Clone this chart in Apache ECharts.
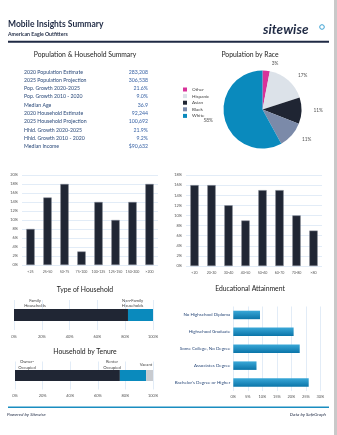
<!DOCTYPE html>
<html><head><meta charset="utf-8">
<script src="https://cdn.jsdelivr.net/npm/echarts@6/dist/echarts.min.js"></script>
<style>html,body{margin:0;padding:0;background:#fff}#c{width:337px;height:435px}</style>
</head><body><div id="c"></div>
<script>
const summaryLabels = ['2020 Population Estimate','2025 Population Projection','Pop. Growth 2020-2025','Pop. Growth 2010 - 2020','Median Age','2020 Household Estimate','2025 Household Projection','Hhld. Growth 2020-2025','Hhld. Growth 2010 - 2020','Median Income'];
const summaryValues = ['283,208','306,538','21.6%','9.0%','36.9','92,244','100,692','21.9%','9.2%','$90,632'];
const raceNames = ['Other','Hispanic','Asian','Black','White'];
const raceValues = [3,17,11,11,58];
const raceColors = ['#d8339a','#dce2e9','#1f2533','#7b8aa9','#0a8abd'];
const incomeCats = ['<25','25-50','50-75','75-100','100-125','125-150','150-200','>200'];
const incomeValues = [8,15,18,3,14,10,14,18];
const ageCats = ['<20','20-30','30-40','40-50','50-60','60-70','70-80','>80'];
const ageValues = [16,16,12,9,15,15,10,7];
const householdNames = ['Family Households','Non-Family Households'];
const householdValues = [82,18];
const tenureNames = ['Owner-Occupied','Renter Occupied','Vacant'];
const tenureValues = [76,19,5];
const eduCats = ['No Highschool Diploma','Highschool Graduate','Some College, No Degree','Associates Degree',"Bachelor's Degree or Higher"];
const eduValues = [9.2,20.8,22.9,8,26];

const F = 'Lato, "Open Sans", sans-serif';
const navy = '#1f2a44';
const dark = '#202634';
const blue = '#0a8abd';
const grid = '#dbe7f5';
const lab = '#2b4a7a';

const chart = echarts.init(document.getElementById('c'), null, {renderer:'canvas'});

const g = [];
g.push({type:'text', left:8, top:20, style:{text:'Mobile Insights Summary', font:'bold 8.5px '+F, fill:navy}});
g.push({type:'text', left:8, top:31.5, style:{text:'American Eagle Outfitters', font:'bold 5.2px '+F, fill:navy}});
g.push({type:'text', left:263, top:23, style:{text:'sitewise', font:'italic bold 13.5px '+F, fill:navy}});
g.push({type:'circle', shape:{cx:322, cy:27, r:2.3}, style:{fill:'none', stroke:'#3aa0d2', lineWidth:1}});
g.push({type:'rect', shape:{x:8, y:40.8, width:321, height:2}, style:{fill:navy}});
g.push({type:'rect', shape:{x:334, y:0, width:3, height:435}, style:{fill:'#c9c9c9'}});
g.push({type:'rect', shape:{x:8, y:406.5, width:321, height:1.6}, style:{fill:'#1a8dc0'}});
g.push({type:'text', left:7, top:412.5, style:{text:'Powered by Sitewise', font:'italic 4.6px '+F, fill:navy}});
g.push({type:'text', right:11, top:412.5, style:{text:'Data by SafeGraph', font:'italic 4.6px '+F, fill:navy, align:'right'}});
const titles = [['Population & Household Summary',85,55],['Population by Race',250,55],['Type of Household',85,290],['Household by Tenure',85,352],['Educational Attainment',250,289]];
titles.forEach(t=>g.push({type:'text', x:t[1], y:t[2], style:{text:t[0], font:'6.8px '+F, fill:'#222', align:'center', verticalAlign:'middle'}}));
const rowY = [72,80,88,96.5,105,113,121.5,130,138,146];
summaryLabels.forEach((l,i)=>{
  g.push({type:'text', x:24, y:rowY[i], style:{text:l, font:'5.2px '+F, fill:lab, verticalAlign:'middle'}});
  g.push({type:'text', x:148, y:rowY[i], style:{text:summaryValues[i], font:'5.2px '+F, fill:'#3a64a6', align:'right', verticalAlign:'middle'}});
});
const small = '4.2px '+F;
g.push({type:'text', x:35, y:303, style:{text:'Family\nHouseholds', font:small, fill:'#444', align:'center', verticalAlign:'middle', lineHeight:4.6}});
g.push({type:'text', x:132.5, y:303, style:{text:'Non-Family\nHouseholds', font:small, fill:'#444', align:'center', verticalAlign:'middle', lineHeight:4.6}});
g.push({type:'text', x:27, y:364.5, style:{text:'Owner-\nOccupied', font:small, fill:'#444', align:'center', verticalAlign:'middle', lineHeight:6}});
g.push({type:'text', x:112, y:364.5, style:{text:'Renter\nOccupied', font:small, fill:'#444', align:'center', verticalAlign:'middle', lineHeight:6}});
g.push({type:'text', x:146, y:365, style:{text:'Vacant', font:small, fill:'#444', align:'center', verticalAlign:'middle'}});

const axLab = {fontSize:4, color:'#555', fontFamily:F};
function catX(gi, cats){
  return {type:'category', gridIndex:gi, data:cats, axisLine:{show:false}, axisTick:{show:false}, axisLabel:Object.assign({margin:5, interval:0}, axLab, {fontSize:3.6})};
}
function valAxis(gi, max, interval, margin){
  return {type:'value', gridIndex:gi, min:0, max:max, interval:interval, axisLabel:Object.assign({formatter:'{value}%', margin:margin}, axLab), splitLine:{lineStyle:{color:grid, width:0.8}}, axisLine:{show:false}, axisTick:{show:false}};
}
const option = {
  animation:false,
  graphic:g,
  legend:{orient:'vertical', left:183, top:87, padding:0, itemWidth:4, itemHeight:4, itemGap:1.6, icon:'rect', data:raceNames, textStyle:{fontSize:4.6, color:'#444', fontFamily:F}},
  grid:[
    {left:22, right:179, top:175, bottom:170},
    {left:186, right:15, top:175, bottom:169},
    {left:14, right:184, top:300, height:30},
    {left:15, right:184, top:361.5, height:28},
    {left:233.3, right:16.7, top:306.5, height:84.5}
  ],
  xAxis:[
    catX(0,incomeCats),
    catX(1,ageCats),
    valAxis(2,100,20,5),
    valAxis(3,100,20,4.5),
    valAxis(4,30,5,3.5)
  ],
  yAxis:[
    valAxis(0,20,2,4),
    valAxis(1,18,2,4),
    {type:'category', gridIndex:2, data:['Household'], show:false},
    {type:'category', gridIndex:3, data:['Tenure'], show:false},
    {type:'category', gridIndex:4, data:eduCats, inverse:true, axisLine:{show:false}, axisTick:{show:false}, axisLabel:{fontSize:4.5, color:lab, fontFamily:F, margin:3}}
  ],
  series:[
    {type:'pie', center:[262.5,109.5], radius:39, startAngle:90, clockwise:true,
      data:raceNames.map((n,i)=>({name:n, value:raceValues[i], itemStyle:{color:raceColors[i]}})),
      label:{show:true, position:'outside', formatter:'{c}%', fontSize:4.8, color:'#555', fontFamily:F},
      labelLine:{show:false, length:7, length2:0}, emphasis:{disabled:true}},
    {type:'bar', xAxisIndex:0, yAxisIndex:0, data:incomeValues, barWidth:'49%', itemStyle:{color:dark, borderColor:'#7e8590', borderWidth:0.5}},
    {type:'bar', xAxisIndex:1, yAxisIndex:1, data:ageValues, barWidth:'49%', itemStyle:{color:dark, borderColor:'#7e8590', borderWidth:0.5}},
    {type:'bar', name:householdNames[0], xAxisIndex:2, yAxisIndex:2, stack:'h', data:[householdValues[0]], barWidth:12, itemStyle:{color:dark}},
    {type:'bar', name:householdNames[1], xAxisIndex:2, yAxisIndex:2, stack:'h', data:[householdValues[1]], barWidth:12, itemStyle:{color:blue}},
    {type:'bar', name:tenureNames[0], xAxisIndex:3, yAxisIndex:3, stack:'t', data:[tenureValues[0]], barWidth:11, itemStyle:{color:dark}},
    {type:'bar', name:tenureNames[1], xAxisIndex:3, yAxisIndex:3, stack:'t', data:[tenureValues[1]], barWidth:11, itemStyle:{color:blue}},
    {type:'bar', name:tenureNames[2], xAxisIndex:3, yAxisIndex:3, stack:'t', data:[tenureValues[2]], barWidth:11, itemStyle:{color:'#c8cbd0'}},
    {type:'bar', xAxisIndex:4, yAxisIndex:4, data:eduValues, barWidth:8.5,
      itemStyle:{color:new echarts.graphic.LinearGradient(0,0,0,1,[{offset:0,color:'#3aa8d8'},{offset:1,color:'#0a74a8'}])}}
  ]
};
chart.setOption(option);
</script></body></html>
